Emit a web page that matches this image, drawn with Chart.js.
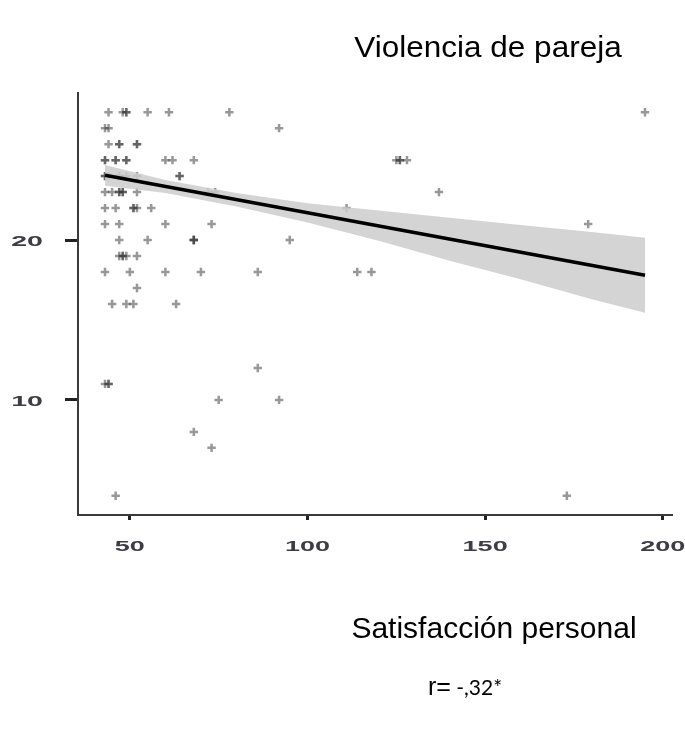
<!DOCTYPE html>
<html>
<head>
<meta charset="utf-8">
<script src="https://cdn.jsdelivr.net/npm/chart.js@4.4.1/dist/chart.umd.min.js"></script>
<style>
html,body{margin:0;padding:0;background:#fff;}
canvas{display:block;}
</style>
</head>
<body>
<canvas id="c" width="685" height="731"></canvas>
<script>
// ---- data ----
const satX = [
  44,48,49,49,55,61,78,195,
  43,44,92,
  44,47,47,52,52,
  43,43,46,46,49,49,60,62,68,125,126,126,128,
  43,43,44,47,49,52,64,64,
  43,45,47,47,48,48,52,72,74,137,
  43,46,51,51,52,56,111,
  43,47,60,73,179,
  47,55,68,68,68,95,
  47,48,48,49,52,
  43,50,60,70,86,114,118,
  52,
  45,49,51,63,
  86,
  43,44,44,
  75,92,
  68,
  73,
  46,173
];
const vioY = [
  28,28,28,28,28,28,28,28,
  27,27,27,
  26,26,26,26,26,
  25,25,25,25,25,25,25,25,25,25,25,25,25,
  24,24,24,24,24,24,24,24,
  23,23,23,23,23,23,23,23,23,23,
  22,22,22,22,22,22,22,
  21,21,21,21,21,
  20,20,20,20,20,20,
  19,19,19,19,19,
  18,18,18,18,18,18,18,
  17,
  16,16,16,16,
  12,
  11,11,11,
  10,10,
  8,
  7,
  4,4
];
const fitX = [43, 195];
const fitY = [24.05, 17.8];
const bandX = [43, 60, 80, 100, 120, 140, 160, 180, 195];
const bandLow = [23.4, 22.95, 22.1, 21.1, 19.95, 18.7, 17.55, 16.3, 15.45];
const bandHigh = [24.7, 23.75, 22.95, 22.3, 21.85, 21.4, 20.95, 20.5, 20.15];
const xTicks = [50, 100, 150, 200];
const yTicks = [10, 20];
const titleText = "Violencia de pareja";
const xTitleText = "Satisfacción personal";
const rLabel = "r=";
const rValue = " -,32*";

const pts = satX.map((x, i) => ({x: x, y: vioY[i]}));
const fitPts = fitX.map((x, i) => ({x: x, y: fitY[i]}));
const lowPts = bandX.map((x, i) => ({x: x, y: bandLow[i]}));
const highPts = bandX.map((x, i) => ({x: x, y: bandHigh[i]}));

function stretchText(ctx, text, x, y, font, color, sx, align) {
  ctx.save();
  ctx.font = font;
  ctx.fillStyle = color;
  ctx.textBaseline = 'alphabetic';
  const w = ctx.measureText(text).width * sx;
  let left = x;
  if (align === 'center') left = x - w / 2;
  else if (align === 'right') left = x - w;
  ctx.translate(left, y);
  ctx.scale(sx, 1);
  ctx.textAlign = 'left';
  ctx.fillText(text, 0, 0);
  ctx.restore();
  return w;
}

const textPlugin = {
  id: 'textPlugin',
  afterDraw(chart) {
    const ctx = chart.ctx;
    const xs = chart.scales.x, ys = chart.scales.y;
    const tickFont = 'bold 15px "Liberation Sans", Arial, sans-serif';
    const tickColor = '#3d3d46';
    xTicks.forEach(v => {
      const px = xs.getPixelForValue(v);
      stretchText(ctx, String(v), px, 551, tickFont, tickColor, 1.8, 'center');
    });
    yTicks.forEach(v => {
      const py = ys.getPixelForValue(v);
      stretchText(ctx, String(v), 27, py + 6, tickFont, tickColor, 1.9, 'center');
    });
    stretchText(ctx, titleText, 488, 57, '30px "Liberation Sans", Arial, sans-serif', '#000', 1.05, 'center');
    stretchText(ctx, xTitleText, 494, 638, '30px "Liberation Sans", Arial, sans-serif', '#000', 1.0, 'center');
    const w1 = stretchText(ctx, rLabel, 428, 695, '25px "Liberation Sans", Arial, sans-serif', '#000', 1.0, 'left');
    stretchText(ctx, rValue, 428 + w1, 695, '21px Lato, "Open Sans", sans-serif', '#000', 1.0, 'left');
  }
};

new Chart(document.getElementById('c'), {
  type: 'scatter',
  data: {
    datasets: [
      {
        type: 'line', data: fitPts, borderColor: '#000', borderWidth: 3.5,
        pointRadius: 0, fill: false, order: 0, tension: 0
      },
      {
        type: 'line', data: highPts, borderWidth: 0, borderColor: 'rgba(0,0,0,0)',
        backgroundColor: 'rgba(205,205,205,0.85)', pointRadius: 0,
        fill: {target: 2}, order: 1, tension: 0
      },
      {
        type: 'line', data: lowPts, borderWidth: 0, borderColor: 'rgba(0,0,0,0)',
        pointRadius: 0, fill: false, order: 2, tension: 0
      },
      {
        type: 'scatter', data: pts, pointStyle: 'cross', pointRadius: 4.2,
        borderWidth: 2.5, borderColor: 'rgba(50,50,50,0.5)',
        backgroundColor: 'rgba(50,50,50,0.5)', order: 3
      }
    ]
  },
  options: {
    responsive: false,
    animation: false,
    events: [],
    layout: {padding: {left: 64, top: 93, right: 13, bottom: 208}},
    plugins: {legend: {display: false}, tooltip: {enabled: false}},
    scales: {
      x: {
        type: 'linear', min: 35.4, max: 202.6,
        afterBuildTicks: a => { a.ticks = xTicks.map(v => ({value: v})); },
        afterFit: s => { s.height = 8; },
        ticks: {display: false},
        grid: {display: true, drawOnChartArea: false, drawTicks: true, tickLength: 5, tickWidth: 3, tickColor: '#222'},
        border: {display: true, color: '#3a3a3a', width: 2}
      },
      y: {
        type: 'linear', min: 2.8, max: 29.2,
        afterBuildTicks: a => { a.ticks = yTicks.map(v => ({value: v})); },
        afterFit: s => { s.width = 14; },
        ticks: {display: false},
        grid: {display: true, drawOnChartArea: false, drawTicks: true, tickLength: 13, tickWidth: 3, tickColor: '#222'},
        border: {display: true, color: '#3a3a3a', width: 2}
      }
    }
  },
  plugins: [textPlugin]
});
</script>
</body>
</html>
